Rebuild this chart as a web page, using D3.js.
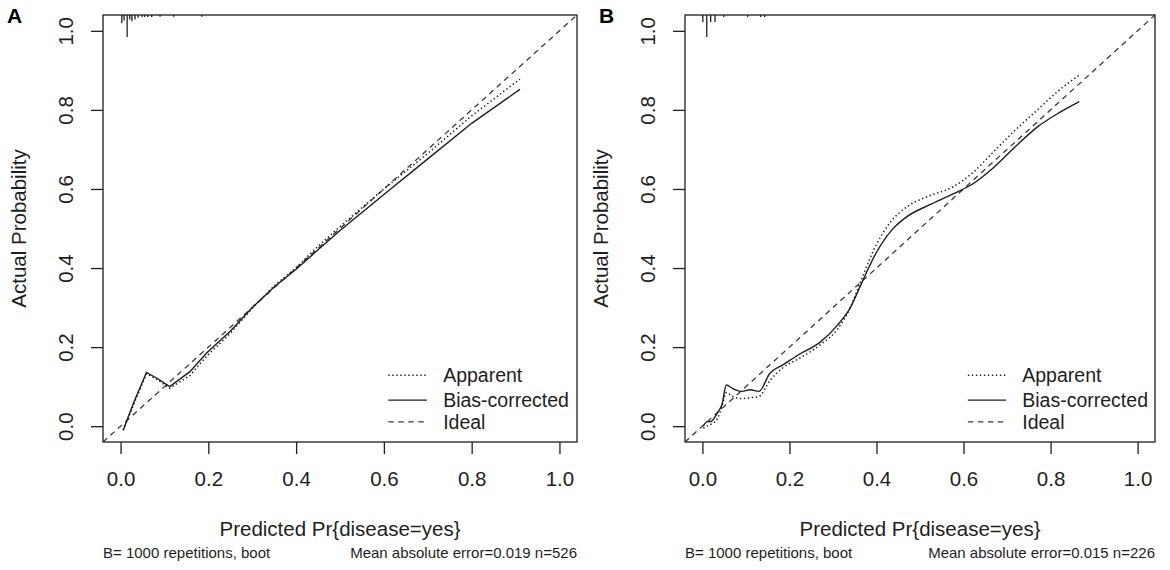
<!DOCTYPE html>
<html>
<head>
<meta charset="utf-8">
<script src="https://cdn.jsdelivr.net/npm/d3@7"></script>
<style>
  body { margin: 0; background: #fff; }
  svg { display: block; font-family: "Liberation Sans", Arial, sans-serif; }
</style>
</head>
<body>
<svg id="chart" width="1170" height="570"></svg>
<script>
// axis ticks shared by both panels
const tickValues = [0, 0.2, 0.4, 0.6, 0.8, 1.0];
const tickLabels = ['0.0', '0.2', '0.4', '0.6', '0.8', '1.0'];
const legendLabels = ['Apparent', 'Bias-corrected', 'Ideal'];

// panel A: predicted vs actual probability
const predA = [0.006, 0.03, 0.059, 0.085, 0.112, 0.158, 0.196, 0.25, 0.3, 0.35, 0.4, 0.45, 0.5, 0.6, 0.7, 0.8, 0.91];
const biasA = [-0.01, 0.06, 0.136, 0.12, 0.1, 0.138, 0.185, 0.24, 0.3, 0.352, 0.397, 0.446, 0.495, 0.586, 0.676, 0.766, 0.852];
const apparentA = [-0.01, 0.055, 0.133, 0.117, 0.096, 0.128, 0.177, 0.235, 0.298, 0.355, 0.401, 0.455, 0.505, 0.6, 0.69, 0.785, 0.878];
const rugXA = [0.003, 0.008, 0.015, 0.021, 0.026, 0.033, 0.04, 0.049, 0.055, 0.062, 0.071, 0.09, 0.121, 0.185];
const rugFreqA = [0.36, 0.25, 1, 0.2, 0.28, 0.2, 0.12, 0.09, 0.09, 0.09, 0.09, 0.08, 0.08, 0.08];

// panel B
const predB = [0.002, 0.01, 0.02, 0.035, 0.045, 0.055, 0.07, 0.09, 0.11, 0.13, 0.155, 0.185, 0.22, 0.27, 0.31, 0.34, 0.365, 0.4, 0.435, 0.47, 0.52, 0.575, 0.62, 0.67, 0.72, 0.77, 0.82, 0.866];
const biasB = [0.0, 0.011, 0.012, 0.035, 0.055, 0.104, 0.095, 0.088, 0.092, 0.088, 0.134, 0.155, 0.18, 0.212, 0.255, 0.3, 0.36, 0.44, 0.496, 0.53, 0.559, 0.587, 0.612, 0.655, 0.708, 0.757, 0.793, 0.821];
const apparentB = [-0.005, 0.0, 0.005, 0.02, 0.05, 0.085, 0.075, 0.07, 0.072, 0.075, 0.115, 0.148, 0.17, 0.205, 0.245, 0.3, 0.37, 0.46, 0.52, 0.555, 0.582, 0.605, 0.64, 0.695, 0.75, 0.8, 0.85, 0.888];
const rugXB = [0.001, 0.01, 0.019, 0.029, 0.049, 0.104, 0.134, 0.143];
const rugFreqB = [0.32, 1, 0.32, 0.32, 0.09, 0.09, 0.09, 0.09];

const svg = d3.select('#chart'),
    boxTop = 15,
    boxBottom = 442,
    fontMain = 20.5,
    fontSub = 15,
    ink = '#1e1e1e',
    dotted = '1.4 2.6',
    dashed = '5.5 4.5';

const panels = [
    {
        letter: 'A', letterX: 7, left: 103, right: 577,
        pred: predA, bias: biasA, apparent: apparentA,
        rugX: rugXA, rugFreq: rugFreqA,
        subLeft: 'B= 1000 repetitions, boot',
        subRight: 'Mean absolute error=0.019 n=526',
        curve: d3.curveLinear
    },
    {
        letter: 'B', letterX: 599, left: 685, right: 1155,
        pred: predB, bias: biasB, apparent: apparentB,
        rugX: rugXB, rugFreq: rugFreqB,
        subLeft: 'B= 1000 repetitions, boot',
        subRight: 'Mean absolute error=0.015 n=226',
        curve: d3.curveMonotoneX
    }
];

function drawPanel(p) {
    const x = d3.scaleLinear().domain([-0.04, 1.04]).range([p.left, p.right]),
        y = d3.scaleLinear().domain([-0.04, 1.04]).range([boxBottom, boxTop]),
        rugLen = d3.scaleLinear().domain([0, 1]).range([0, 22]),
        clipId = 'clip-' + p.letter,
        g = svg.append('g');

    g.append('clipPath').attr('id', clipId)
        .append('rect')
        .attr('x', p.left).attr('y', boxTop)
        .attr('width', p.right - p.left).attr('height', boxBottom - boxTop);

    // x axis
    const xAxis = g.append('g')
        .attr('transform', 'translate(0,' + boxBottom + ')')
        .call(d3.axisBottom(x).tickValues(tickValues)
            .tickFormat((d, i) => tickLabels[i]).tickSize(12));
    xAxis.select('.domain').remove();
    xAxis.selectAll('line').attr('stroke', ink).attr('stroke-width', 1.3);
    xAxis.selectAll('text')
        .attr('y', 44).attr('dy', null)
        .attr('fill', ink).attr('font-size', fontMain)
        .attr('font-family', 'Liberation Sans, Arial, sans-serif');

    // y axis, labels rotated like base R
    const yAxis = g.append('g')
        .attr('transform', 'translate(' + p.left + ',0)')
        .call(d3.axisLeft(y).tickValues(tickValues)
            .tickFormat((d, i) => tickLabels[i]).tickSize(12));
    yAxis.select('.domain').remove();
    yAxis.selectAll('line').attr('stroke', ink).attr('stroke-width', 1.3);
    yAxis.selectAll('text')
        .attr('x', 0).attr('dy', null)
        .attr('transform', 'translate(-30,0) rotate(-90)')
        .attr('text-anchor', 'middle')
        .attr('fill', ink).attr('font-size', fontMain)
        .attr('font-family', 'Liberation Sans, Arial, sans-serif');

    const plot = g.append('g').attr('clip-path', 'url(#' + clipId + ')');

    // ideal line
    plot.append('line')
        .attr('x1', x(-0.04)).attr('y1', y(-0.04))
        .attr('x2', x(1.04)).attr('y2', y(1.04))
        .attr('stroke', '#3a3a3a').attr('stroke-width', 1.3)
        .attr('stroke-dasharray', dashed);

    const line = d3.line().curve(p.curve)
        .x(d => x(d[0])).y(d => y(d[1]));

    plot.append('path')
        .datum(d3.zip(p.pred, p.apparent))
        .attr('d', line)
        .attr('fill', 'none').attr('stroke', ink)
        .attr('stroke-width', 1.5).attr('stroke-dasharray', dotted);

    plot.append('path')
        .datum(d3.zip(p.pred, p.bias))
        .attr('d', line)
        .attr('fill', 'none').attr('stroke', ink)
        .attr('stroke-width', 1.4);

    // spike histogram of predictions along the top
    plot.selectAll('.rug')
        .data(d3.zip(p.rugX, p.rugFreq))
        .enter().append('line')
        .attr('class', 'rug')
        .attr('x1', d => x(d[0])).attr('x2', d => x(d[0]))
        .attr('y1', boxTop).attr('y2', d => boxTop + rugLen(d[1]))
        .attr('stroke', ink).attr('stroke-width', 1.3);

    g.append('rect')
        .attr('x', p.left).attr('y', boxTop)
        .attr('width', p.right - p.left).attr('height', boxBottom - boxTop)
        .attr('fill', 'none').attr('stroke', ink).attr('stroke-width', 1.3);

    // legend
    const rowsY = [0.129, 0.066, 0.011],
        styles = [dotted, null, dashed];
    legendLabels.forEach((label, i) => {
        g.append('line')
            .attr('x1', x(0.61)).attr('x2', x(0.698))
            .attr('y1', y(rowsY[i])).attr('y2', y(rowsY[i]))
            .attr('stroke', i === 2 ? '#3a3a3a' : ink)
            .attr('stroke-width', 1.4)
            .attr('stroke-dasharray', styles[i]);
        g.append('text')
            .attr('x', x(0.735)).attr('y', y(rowsY[i]))
            .attr('dy', '0.35em')
            .attr('font-size', 19.5).attr('fill', ink)
            .text(label);
    });

    // titles
    g.append('text')
        .attr('x', (p.left + p.right) / 2).attr('y', boxBottom + 94)
        .attr('text-anchor', 'middle')
        .attr('font-size', fontMain).attr('fill', ink)
        .text('Predicted Pr{disease=yes}');

    g.append('text')
        .attr('transform', 'translate(' + (p.left - 77) + ',' + (boxTop + boxBottom) / 2 + ') rotate(-90)')
        .attr('text-anchor', 'middle')
        .attr('font-size', fontMain).attr('fill', ink)
        .text('Actual Probability');

    g.append('text')
        .attr('x', p.left).attr('y', boxBottom + 116)
        .attr('font-size', fontSub).attr('fill', ink)
        .text(p.subLeft);

    g.append('text')
        .attr('x', p.right).attr('y', boxBottom + 116)
        .attr('text-anchor', 'end')
        .attr('font-size', fontSub).attr('fill', ink)
        .text(p.subRight);

    g.append('text')
        .attr('x', p.letterX).attr('y', 23)
        .attr('font-size', 21).attr('font-weight', 'bold').attr('fill', '#000')
        .text(p.letter);
}

panels.forEach(drawPanel);
</script>
</body>
</html>
